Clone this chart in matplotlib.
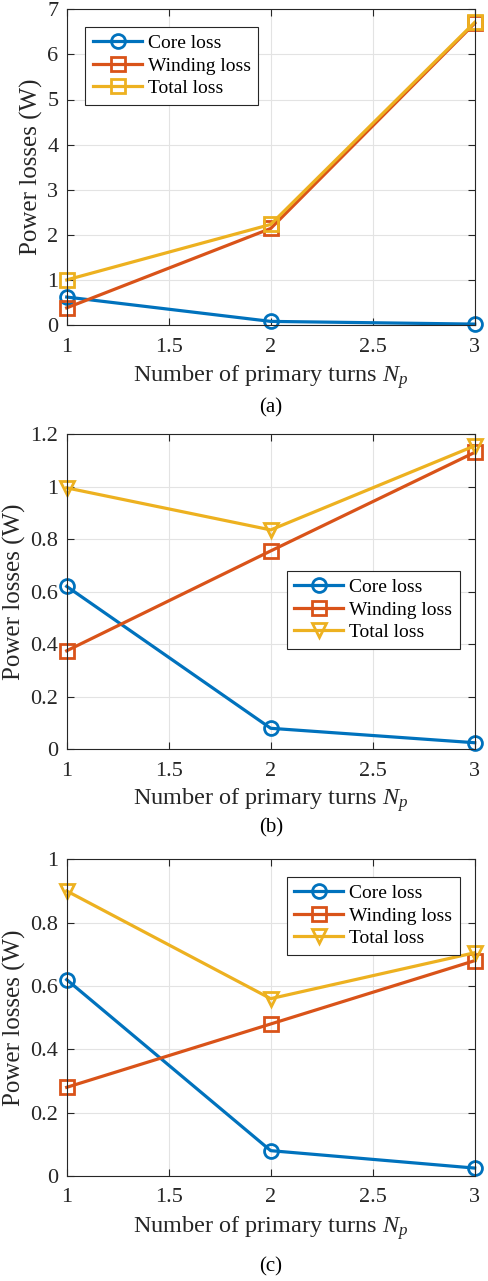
import numpy as np
import matplotlib.pyplot as plt

plt.rcParams['font.family'] = ['Liberation Serif', 'DejaVu Serif']
plt.rcParams['mathtext.fontset'] = 'custom'
plt.rcParams['mathtext.rm'] = 'Liberation Serif'
plt.rcParams['mathtext.it'] = 'Liberation Serif:italic'

turns = [1, 2, 3]

# (a)
core_a = [0.62, 0.08, 0.02]
wind_a = [0.38, 2.14, 6.69]
total_a = [1.00, 2.23, 6.71]

# (b)
core_b = [0.62, 0.08, 0.025]
wind_b = [0.375, 0.755, 1.13]
total_b = [0.995, 0.835, 1.155]

# (c)
core_c = [0.62, 0.08, 0.025]
wind_c = [0.28, 0.48, 0.68]
total_c = [0.90, 0.56, 0.705]

panels = [
    dict(core=core_a, wind=wind_a, total=total_a, tmark='s', ylim=(0, 7),
         yticks=np.arange(0, 8, 1), leg=(0.046, 0.945), tag='(a)'),
    dict(core=core_b, wind=wind_b, total=total_b, tmark='v', ylim=(0, 1.2),
         yticks=np.arange(0, 1.21, 0.2), leg=(0.539, 0.566), tag='(b)'),
    dict(core=core_c, wind=wind_c, total=total_c, tmark='v', ylim=(0, 1),
         yticks=np.arange(0, 1.01, 0.2), leg=(0.539, 0.945), tag='(c)'),
]

blue = '#0072BD'
orange = '#D95319'
yellow = '#EDB120'

W, H = 488, 1281
fig = plt.figure(figsize=(W / 100, H / 100), dpi=100)

# axes boxes in pixels: left, top, right, bottom
boxes = [(66.7, 9.3, 474.7, 325.0),
         (66.7, 434.0, 474.7, 749.3),
         (66.7, 859.3, 474.7, 1176.0)]
xlab_y = [377, 800, 1228]
ylab_x = [31, 14, 14]
tag_y = [408, 828, 1267]

for p, (l, t, r, b), xy, yx, ty in zip(panels, boxes, xlab_y, ylab_x, tag_y):
    w, h = r - l, b - t
    ax = fig.add_axes([l / W, 1 - b / H, w / W, h / H])
    mk = dict(markersize=10, markerfacecolor='none', markeredgewidth=2)
    ax.plot(turns, p['core'], '-o', color=blue, lw=2.3, label='Core loss', **mk)
    ax.plot(turns, p['wind'], '-s', color=orange, lw=2.3, label='Winding loss', **mk)
    ax.plot(turns, p['total'], '-' + p['tmark'], color=yellow, lw=2.3,
            label='Total loss', **mk)
    for line in ax.lines:
        line.set_clip_on(False)

    ax.set_xlim(1, 3)
    ax.set_ylim(*p['ylim'])
    ax.set_xticks([1, 1.5, 2, 2.5, 3])
    ax.set_xticklabels(['1', '1.5', '2', '2.5', '3'])
    ax.set_yticks(p['yticks'])
    ax.set_yticklabels([f'{v:g}' for v in p['yticks']])
    ax.tick_params(direction='in', top=True, right=True, labelsize=16,
                   length=5, width=0.8, colors='#262626')
    ax.tick_params(axis='x', pad=9)
    ax.tick_params(axis='y', pad=6)
    for s in ax.spines.values():
        s.set_linewidth(0.8)
        s.set_color('#262626')
    ax.grid(True, color='#e3e3e3', lw=0.8)
    ax.set_axisbelow(True)

    ax.set_xlabel('Number of primary turns $N_p$', fontsize=17.5, color='#262626',
                  va='center')
    ax.xaxis.set_label_coords(0.5, -(xy - b) / h)
    ax.set_ylabel('Power losses (W)', fontsize=18, color='#262626', va='center')
    ax.yaxis.set_label_coords(-(l - yx) / w, 0.5)

    leg = ax.legend(loc='upper left', bbox_to_anchor=p['leg'], borderaxespad=0,
                    fontsize=14, handlelength=2.5, handletextpad=0.3,
                    labelspacing=0.25, borderpad=0.4, fancybox=False,
                    framealpha=1, edgecolor='#262626')
    leg.get_frame().set_linewidth(0.8)

    fig.text(0.5 * (l + r) / W, 1 - ty / H, p['tag'], ha='center', va='center',
             fontsize=15)

fig.savefig('out.png', dpi=100)
